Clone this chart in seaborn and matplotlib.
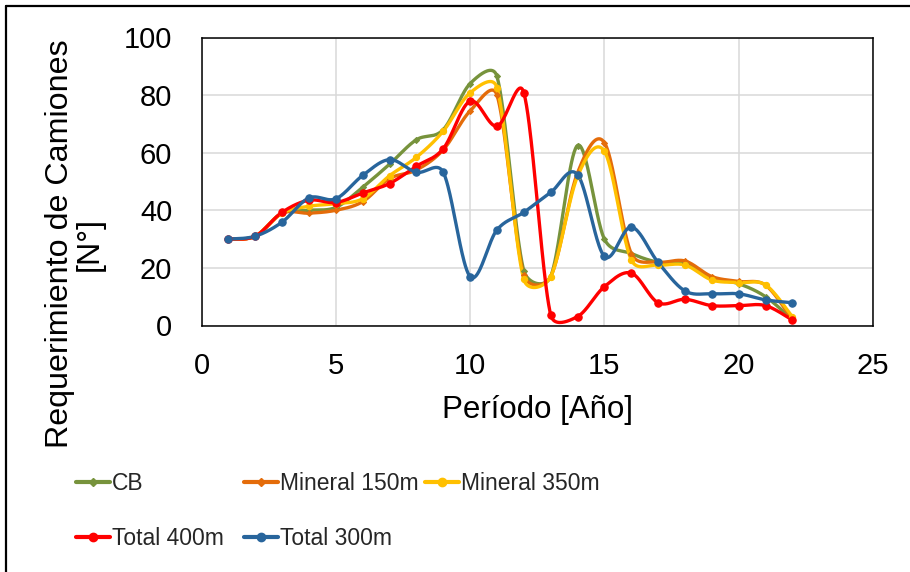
import numpy as np
import pandas as pd
import matplotlib
matplotlib.use("Agg")
import matplotlib.pyplot as plt
from matplotlib.lines import Line2D
import seaborn as sns

# ---- data -------------------------------------------------------------
years = list(range(1, 23))
cb = [30, 31, 39, 40, 41, 48, 56, 64.5, 68, 84, 86.5, 19, 17, 62.5, 30, 25,
      22, 21.8, 16.5, 14.5, 10, 2]
mineral_150 = [30, 31, 39, 39, 40, 43, 51, 54, 61, 74.5, 80, 17.5, 17, 53,
               63.5, 25, 22, 22.4, 17, 15.3, 14, 2]
mineral_350 = [30, 31, 39, 41.4, 42.3, 44, 52, 58.4, 67.5, 80.8, 82.6, 16, 17,
               51.8, 60.5, 22.8, 21, 21, 15.8, 14.9, 14.1, 3]
total_400 = [30, 31, 39.3, 43.5, 42.7, 46, 49.3, 55.3, 61.4, 77.9, 69.2, 80.8,
             3.7, 3.1, 13.5, 18.2, 7.9, 9.1, 6.9, 6.9, 6.9, 1.9]
total_300 = [30, 31, 35.9, 44.3, 44, 52.1, 57.6, 53.2, 53.2, 17, 33.2, 39.3,
             46.2, 52.4, 24, 34.2, 21.9, 12, 11, 11, 8.9, 7.9]

series_names = ["CB", "Mineral 150m", "Mineral 350m", "Total 400m", "Total 300m"]
series_values = [cb, mineral_150, mineral_350, total_400, total_300]
colors = ["#77933C", "#E46C0A", "#FFC000", "#FF0000", "#28659C"]
marker_shapes = ["D", "D", "o", "o", "o"]
marker_sizes = [9, 9, 20, 28, 28]

x_ticks = [0, 5, 10, 15, 20, 25]
y_ticks = [0, 20, 40, 60, 80, 100]

# ---- figure geometry (pixels) ----------------------------------------
W, H = 910, 572
ax_left, ax_right, ax_top, ax_bottom = 201.5, 873, 37.5, 325.5
px_per_x = (ax_right - ax_left) / 25.0
px_per_y = (ax_bottom - ax_top) / 100.0


def smooth_curve(x, y, sx, sy, n=40):
    """Bezier smoothing of a polyline, with control arms limited to half of
    each segment (computed in screen units)."""
    P = np.column_stack([np.asarray(x, float) * sx, np.asarray(y, float) * sy])
    m = len(P)
    pts = []
    for i in range(m - 1):
        p0 = P[i - 1] if i > 0 else P[i]
        p1, p2 = P[i], P[i + 1]
        p3 = P[i + 2] if i + 2 < m else P[i + 1]
        d02 = np.linalg.norm(p2 - p0)
        d12 = np.linalg.norm(p2 - p1)
        d13 = np.linalg.norm(p3 - p1)
        f1 = 1 / 6 if d02 / 6 < d12 / 2 else (d12 / 2 / d02 if d02 > 0 else 0)
        f2 = 1 / 6 if d13 / 6 < d12 / 2 else (d12 / 2 / d13 if d13 > 0 else 0)
        b1 = p1 + (p2 - p0) * f1
        b2 = p2 - (p3 - p1) * f2
        t = np.linspace(0, 1, n, endpoint=(i == m - 2))[:, None]
        seg = ((1 - t) ** 3) * p1 + 3 * ((1 - t) ** 2) * t * b1 \
            + 3 * (1 - t) * t ** 2 * b2 + t ** 3 * p2
        pts.append(seg)
    pts = np.vstack(pts)
    return pts[:, 0] / sx, pts[:, 1] / sy


sns.set_theme(style="white")
plt.rcParams["font.family"] = ["Liberation Sans", "DejaVu Sans"]

fig = plt.figure(figsize=(W / 100, H / 100), dpi=100)
ax = fig.add_axes([ax_left / W, 1 - ax_bottom / H,
                   (ax_right - ax_left) / W, (ax_bottom - ax_top) / H])

# smoothed lines plus point markers, one series at a time
for name, vals, col, mk, ms in zip(series_names, series_values, colors,
                                   marker_shapes, marker_sizes):
    sxv, syv = smooth_curve(years, vals, px_per_x, px_per_y)
    curve = pd.DataFrame({"x": sxv, "y": syv})
    sns.lineplot(data=curve, x="x", y="y", sort=False, estimator=None,
                 color=col, linewidth=2.4, ax=ax, legend=False, zorder=3)
    raw = pd.DataFrame({"x": years, "y": vals})
    sns.scatterplot(data=raw, x="x", y="y", color=col, marker=mk, s=ms,
                    edgecolor=col, linewidth=0.8, ax=ax, legend=False, zorder=4)

ax.set_xlim(0, 25)
ax.set_ylim(0, 100)
ax.set_xticks(x_ticks)
ax.set_yticks(y_ticks)
ax.set_xlabel("")
ax.set_ylabel("")
ax.grid(True, color="#D9D9D9", linewidth=1.1, zorder=0)
ax.set_axisbelow(True)
for sp in ax.spines.values():
    sp.set_visible(True)
    sp.set_color("black")
    sp.set_linewidth(1.1)
ax.tick_params(axis="both", length=0, labelsize=21, colors="black")
ax.tick_params(axis="x", pad=19)
ax.tick_params(axis="y", pad=21)

fig.text(537 / W, 1 - 410 / H, "Período [Año]", ha="center", va="center",
         fontsize=22.5, color="black")
fig.text(75 / W, 1 - 244 / H, "Requerimiento de Camiones\n[N°]", rotation=90,
         ha="center", va="center", multialignment="center", fontsize=23.2,
         linespacing=1.0, color="black")

# legend: three fixed-width columns, two rows
handles = [Line2D([0], [0], color=c, linewidth=3, marker=m,
                  markersize=4 if m == "D" else 6, markeredgecolor=c)
           for c, m in zip(colors, marker_shapes)]
legend_columns = [[0, 3], [1, 4], [2]]
column_x = [76, 244, 425]
for idx, cx in zip(legend_columns, column_x):
    fig.legend([handles[i] for i in idx], [series_names[i] for i in idx],
               ncol=1, loc="upper left", bbox_to_anchor=(cx / W, 1 - 472 / H),
               frameon=False, borderpad=0, borderaxespad=0,
               prop={"size": 16.5}, handlelength=1.48, handletextpad=0.1,
               labelspacing=1.38)

# chart frame
fig.add_artist(Line2D([6 / W, 6 / W], [0, 1 - 6 / H], transform=fig.transFigure,
                      color="black", linewidth=1.6))
fig.add_artist(Line2D([6 / W, 1], [1 - 6 / H, 1 - 6 / H],
                      transform=fig.transFigure, color="black", linewidth=1.6))

fig.savefig("out.png", dpi=100)
